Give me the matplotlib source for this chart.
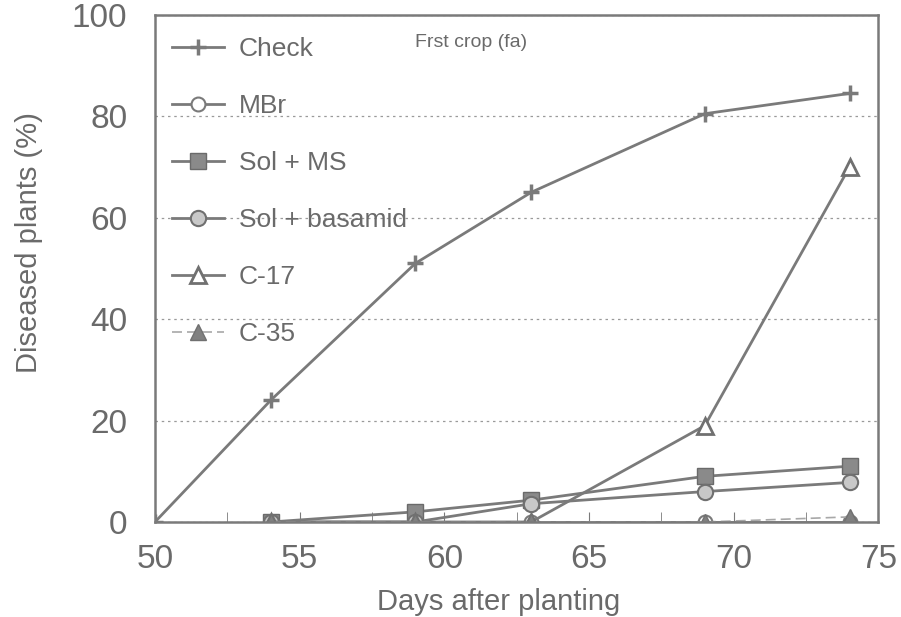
import matplotlib
matplotlib.use("Agg")
import matplotlib.pyplot as plt
from matplotlib.ticker import MultipleLocator

plt.rcParams['font.family'] = ['Liberation Sans', 'DejaVu Sans']

# data
days_check = [50, 54, 59, 63, 69, 74]
check = [0, 24, 51, 65, 80.5, 84.5]

days = [54, 59, 63, 69, 74]
mbr = [0, 0, 0, 0, 0]
sol_ms = [0, 2, 4.3, 9, 11]
sol_bas = [0, 0, 3.6, 6, 7.8]
c17 = [0, 0, 0, 19, 70]
c35 = [0, 0, 0, 0, 1]

grey = '#7a7a7a'
txt = '#6a6a6a'

fig = plt.figure(figsize=(9.01, 6.17), dpi=100)
ax = fig.add_axes([0.172, 0.154, 0.803, 0.822])

ax.plot(days_check, check, color=grey, lw=2, marker='+', ms=12, mew=2.5,
        label='Check')
ax.plot(days, mbr, color=grey, lw=2, marker='o', ms=10, mfc='white',
        mec=grey, mew=1.5, label='MBr')
ax.plot(days, sol_ms, color=grey, lw=2, marker='s', ms=11, mfc='#8a8a8a',
        mec='#6a6a6a', label='Sol + MS')
ax.plot(days, sol_bas, color=grey, lw=2, marker='o', ms=11, mfc='#c8c8c8',
        mec='#707070', mew=1.5, label='Sol + basamid')
ax.plot(days, c17, color=grey, lw=2, marker='^', ms=12, mfc='white',
        mec='#707070', mew=2, label='C-17')
ax.plot(days, c35, color='#a8a8a8', lw=1.2, ls=(0, (6, 3)), marker='^',
        ms=11, mfc='#808080', mec='#707070', label='C-35')

ax.set_xlim(50, 75)
ax.set_ylim(0, 100)
ax.xaxis.set_major_locator(MultipleLocator(5))
ax.xaxis.set_minor_locator(MultipleLocator(2.5))
ax.yaxis.set_major_locator(MultipleLocator(20))
ax.tick_params(axis='x', which='both', direction='in', length=7, color=grey,
               labelsize=24, labelcolor=txt, pad=16)
ax.tick_params(axis='y', length=0, labelsize=24, labelcolor=txt, pad=20)
for s in ax.spines.values():
    s.set_color(grey)
    s.set_linewidth(1.8)

ax.grid(axis='y', ls=(0, (2, 3)), color='#9a9a9a', lw=0.9)

ax.set_xlabel('Days after planting', fontsize=21, color=txt)
ax.set_ylabel('Diseased plants (%)', fontsize=21, color=txt)
ax.xaxis.set_label_coords(0.475, -0.13)
ax.yaxis.set_label_coords(-0.155, 0.55)

leg = ax.legend(loc='upper left', frameon=False, fontsize=19,
                labelspacing=1.25, handlelength=2.0, handletextpad=0.55,
                borderaxespad=0.45, bbox_to_anchor=(-0.008, 1.0))
for t in leg.get_texts():
    t.set_color(txt)

ax.text(0.36, 0.945, 'Frst crop (fa)', transform=ax.transAxes, fontsize=14,
        color=txt, va='center')

fig.savefig('out.png', dpi=100)
